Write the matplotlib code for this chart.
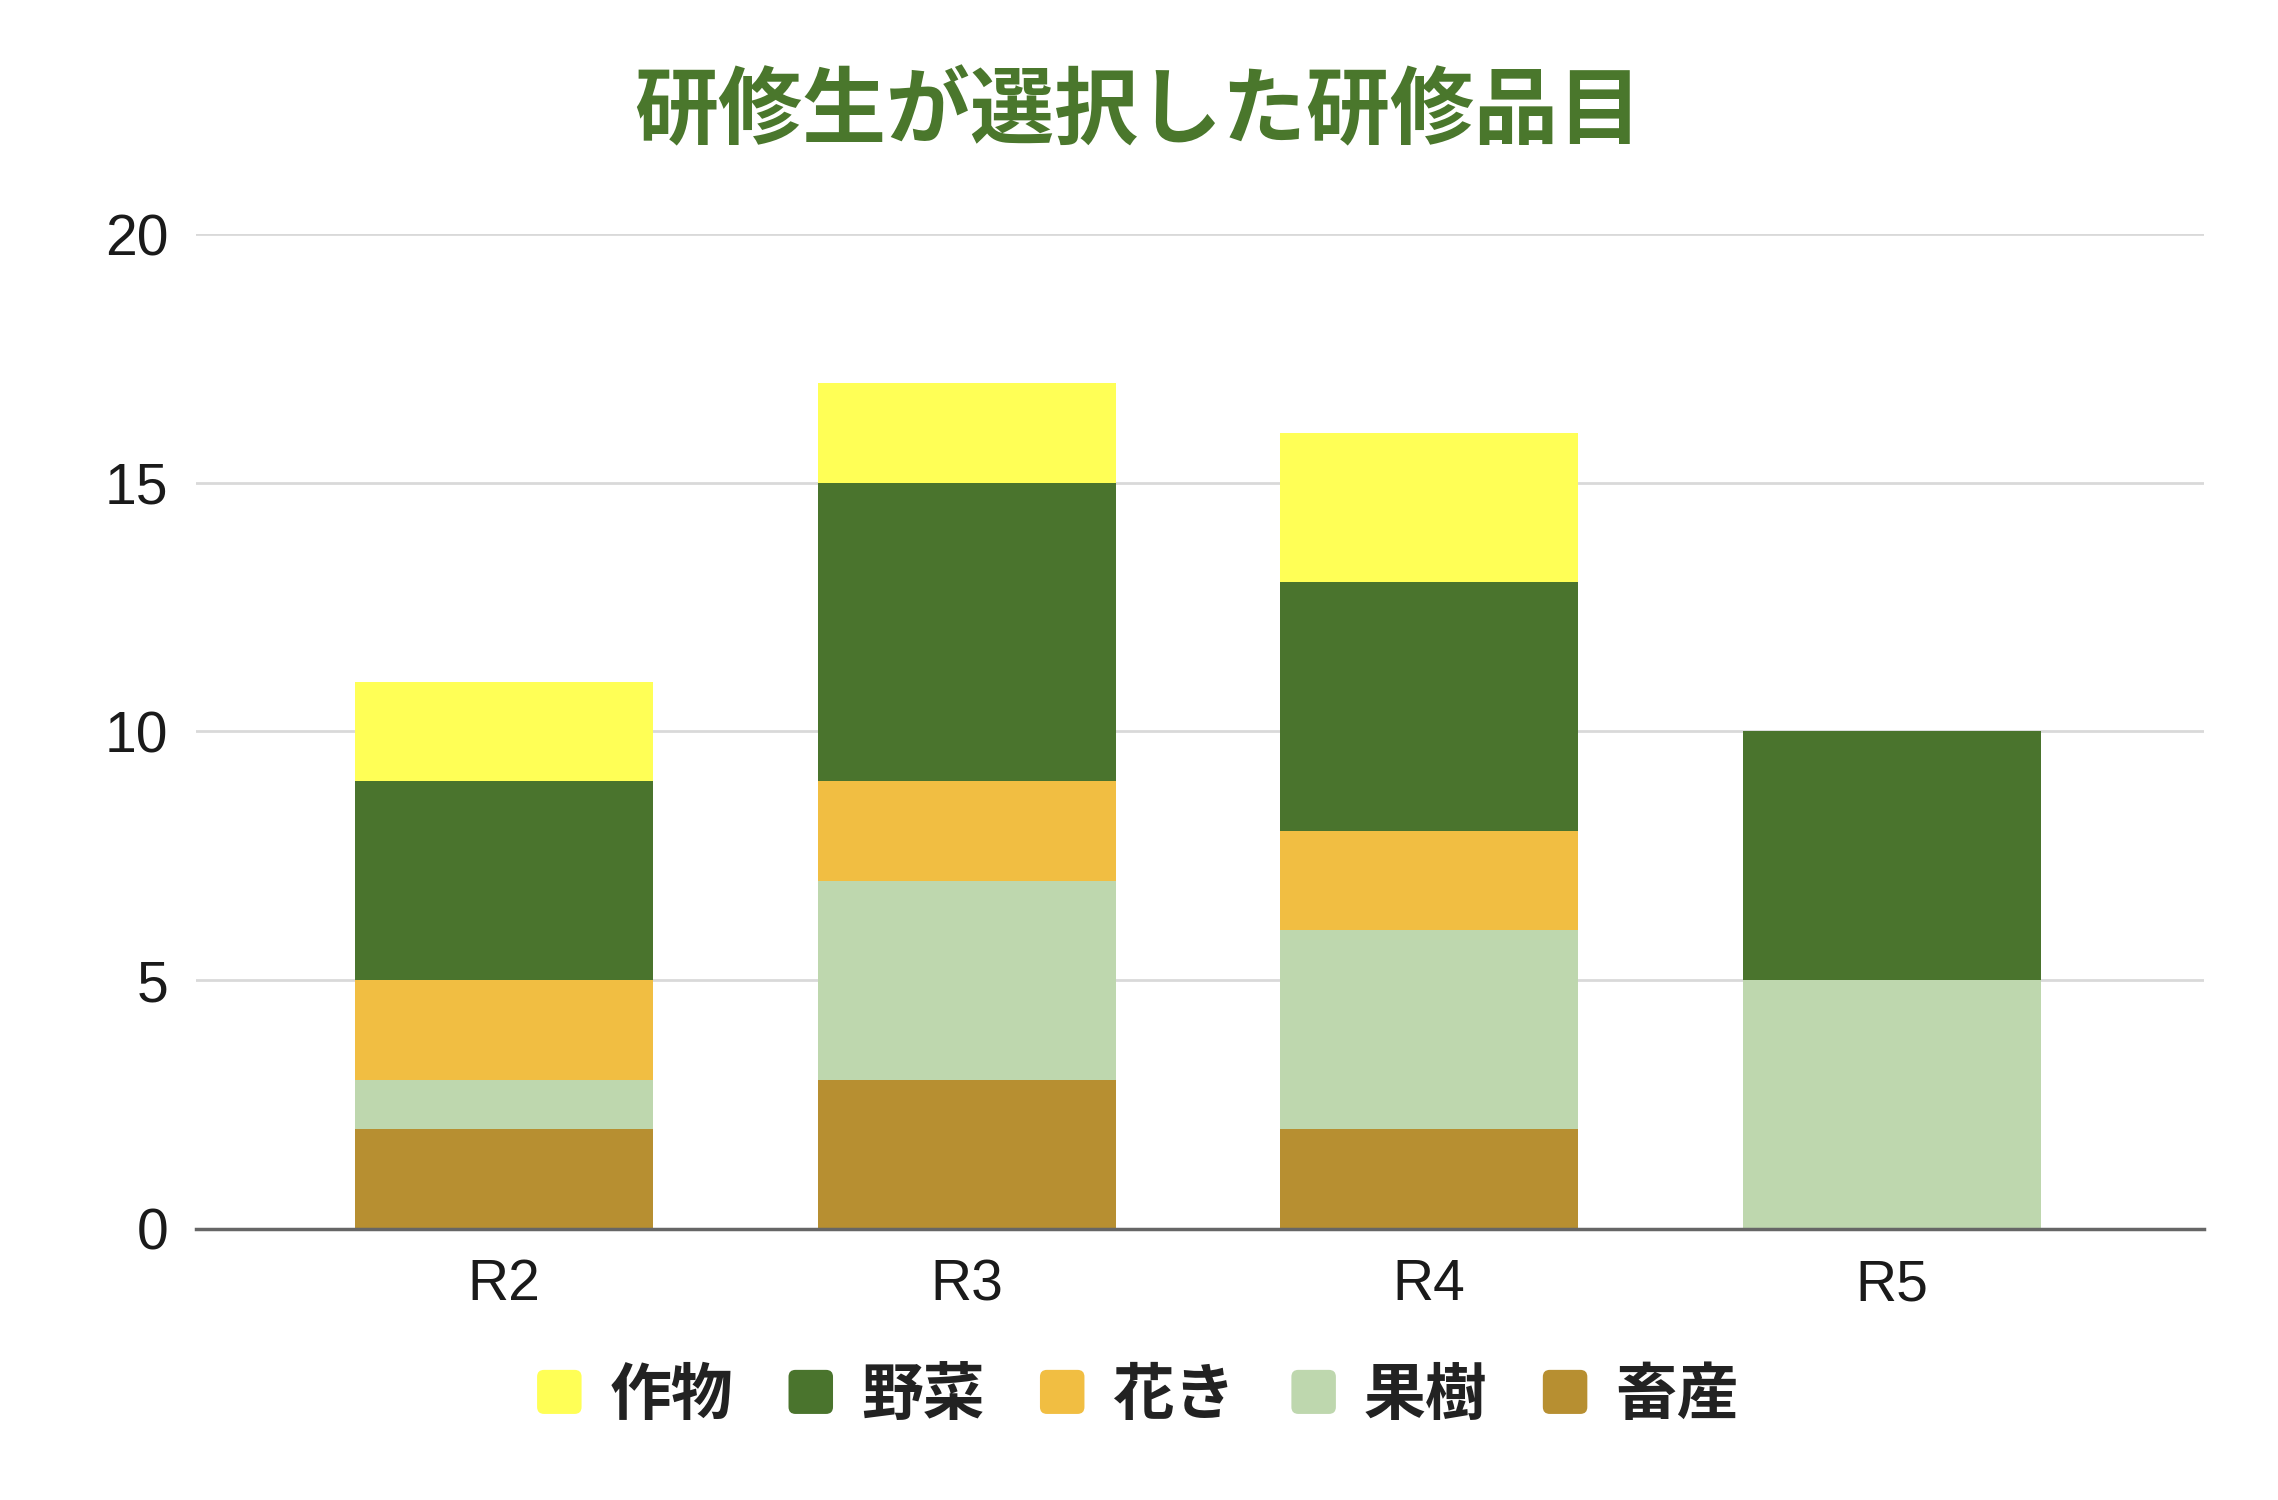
import numpy as np
import matplotlib
matplotlib.use("Agg")
import matplotlib.pyplot as plt
from matplotlib.patches import Patch, FancyBboxPatch
from matplotlib.legend_handler import HandlerPatch

# data (stack order: bottom to top)
years = ['R2', 'R3', 'R4', 'R5']
chikusan = [2, 3, 2, 0]   # 畜産
kaju = [1, 4, 4, 5]       # 果樹
kaki = [2, 2, 2, 0]       # 花き
yasai = [4, 6, 5, 5]      # 野菜
sakumotsu = [2, 2, 3, 0]  # 作物

series = [
	('畜産', chikusan, '#B78F31'),
	('果樹', kaju, '#BED7AE'),
	('花き', kaki, '#F1BE42'),
	('野菜', yasai, '#4A742D'),
	('作物', sakumotsu, '#FFFF56'),
]
legend_order = ['作物', '野菜', '花き', '果樹', '畜産']

plt.rcParams['font.family'] = ['Liberation Sans', 'Noto Sans CJK JP', 'DejaVu Sans']

fig = plt.figure(figsize=(22.78, 15), dpi=100)
ax = fig.add_axes([0.086, 0.1807, 0.8815, 0.6633])

x = np.arange(len(years))
bottom = np.zeros(len(years))
handles = {}
for name, vals, color in series:
	vals = np.array(vals, dtype=float)
	ax.bar(x, vals, width=0.644, bottom=bottom, color=color, linewidth=0, zorder=3)
	bottom += vals
	handles[name] = Patch(facecolor=color, label=name)

ax.set_xlim(-0.666, 3.675)
ax.set_ylim(0, 20)
ax.set_yticks([0, 5, 10, 15, 20])
ax.set_xticks(x)
ax.set_xticklabels(years)
ax.tick_params(axis='both', length=0, labelsize=41, colors='#1a1a1a')
ax.tick_params(axis='y', pad=20)
ax.tick_params(axis='x', pad=21)
ax.grid(axis='y', color='#D9D9D9', linewidth=2, zorder=0)
for s in ['top', 'right', 'left']:
	ax.spines[s].set_visible(False)
ax.spines['bottom'].set_color('#666666')
ax.spines['bottom'].set_linewidth(2.5)
ax.spines['bottom'].set_zorder(4)

fig.text(0.4995, 0.925, '研修生が選択した研修品目', ha='center', va='center',
	fontsize=60.5, fontweight='bold', color='#4A772C', family=['Noto Sans CJK JP'])


class RoundHandler(HandlerPatch):
	def create_artists(self, legend, orig_handle, xdescent, ydescent, width, height, fontsize, trans):
		p = FancyBboxPatch((-xdescent + 3, -ydescent + 3), width - 6, height - 6,
			boxstyle='round,pad=3,rounding_size=5', facecolor=orig_handle.get_facecolor(),
			edgecolor='none', transform=trans)
		return [p]


leg = fig.legend([handles[n] for n in legend_order], legend_order, loc='center',
	bbox_to_anchor=(0.4995, 0.070), ncol=5, frameon=False,
	handler_map={Patch: RoundHandler()},
	prop={'family': ['Noto Sans CJK JP'], 'weight': 'bold', 'size': 44.5},
	handlelength=0.72, handleheight=0.72, handletextpad=0.45, columnspacing=0.9)
for t in leg.get_texts():
	t.set_color('#222222')

fig.savefig('out.png', dpi=100)
